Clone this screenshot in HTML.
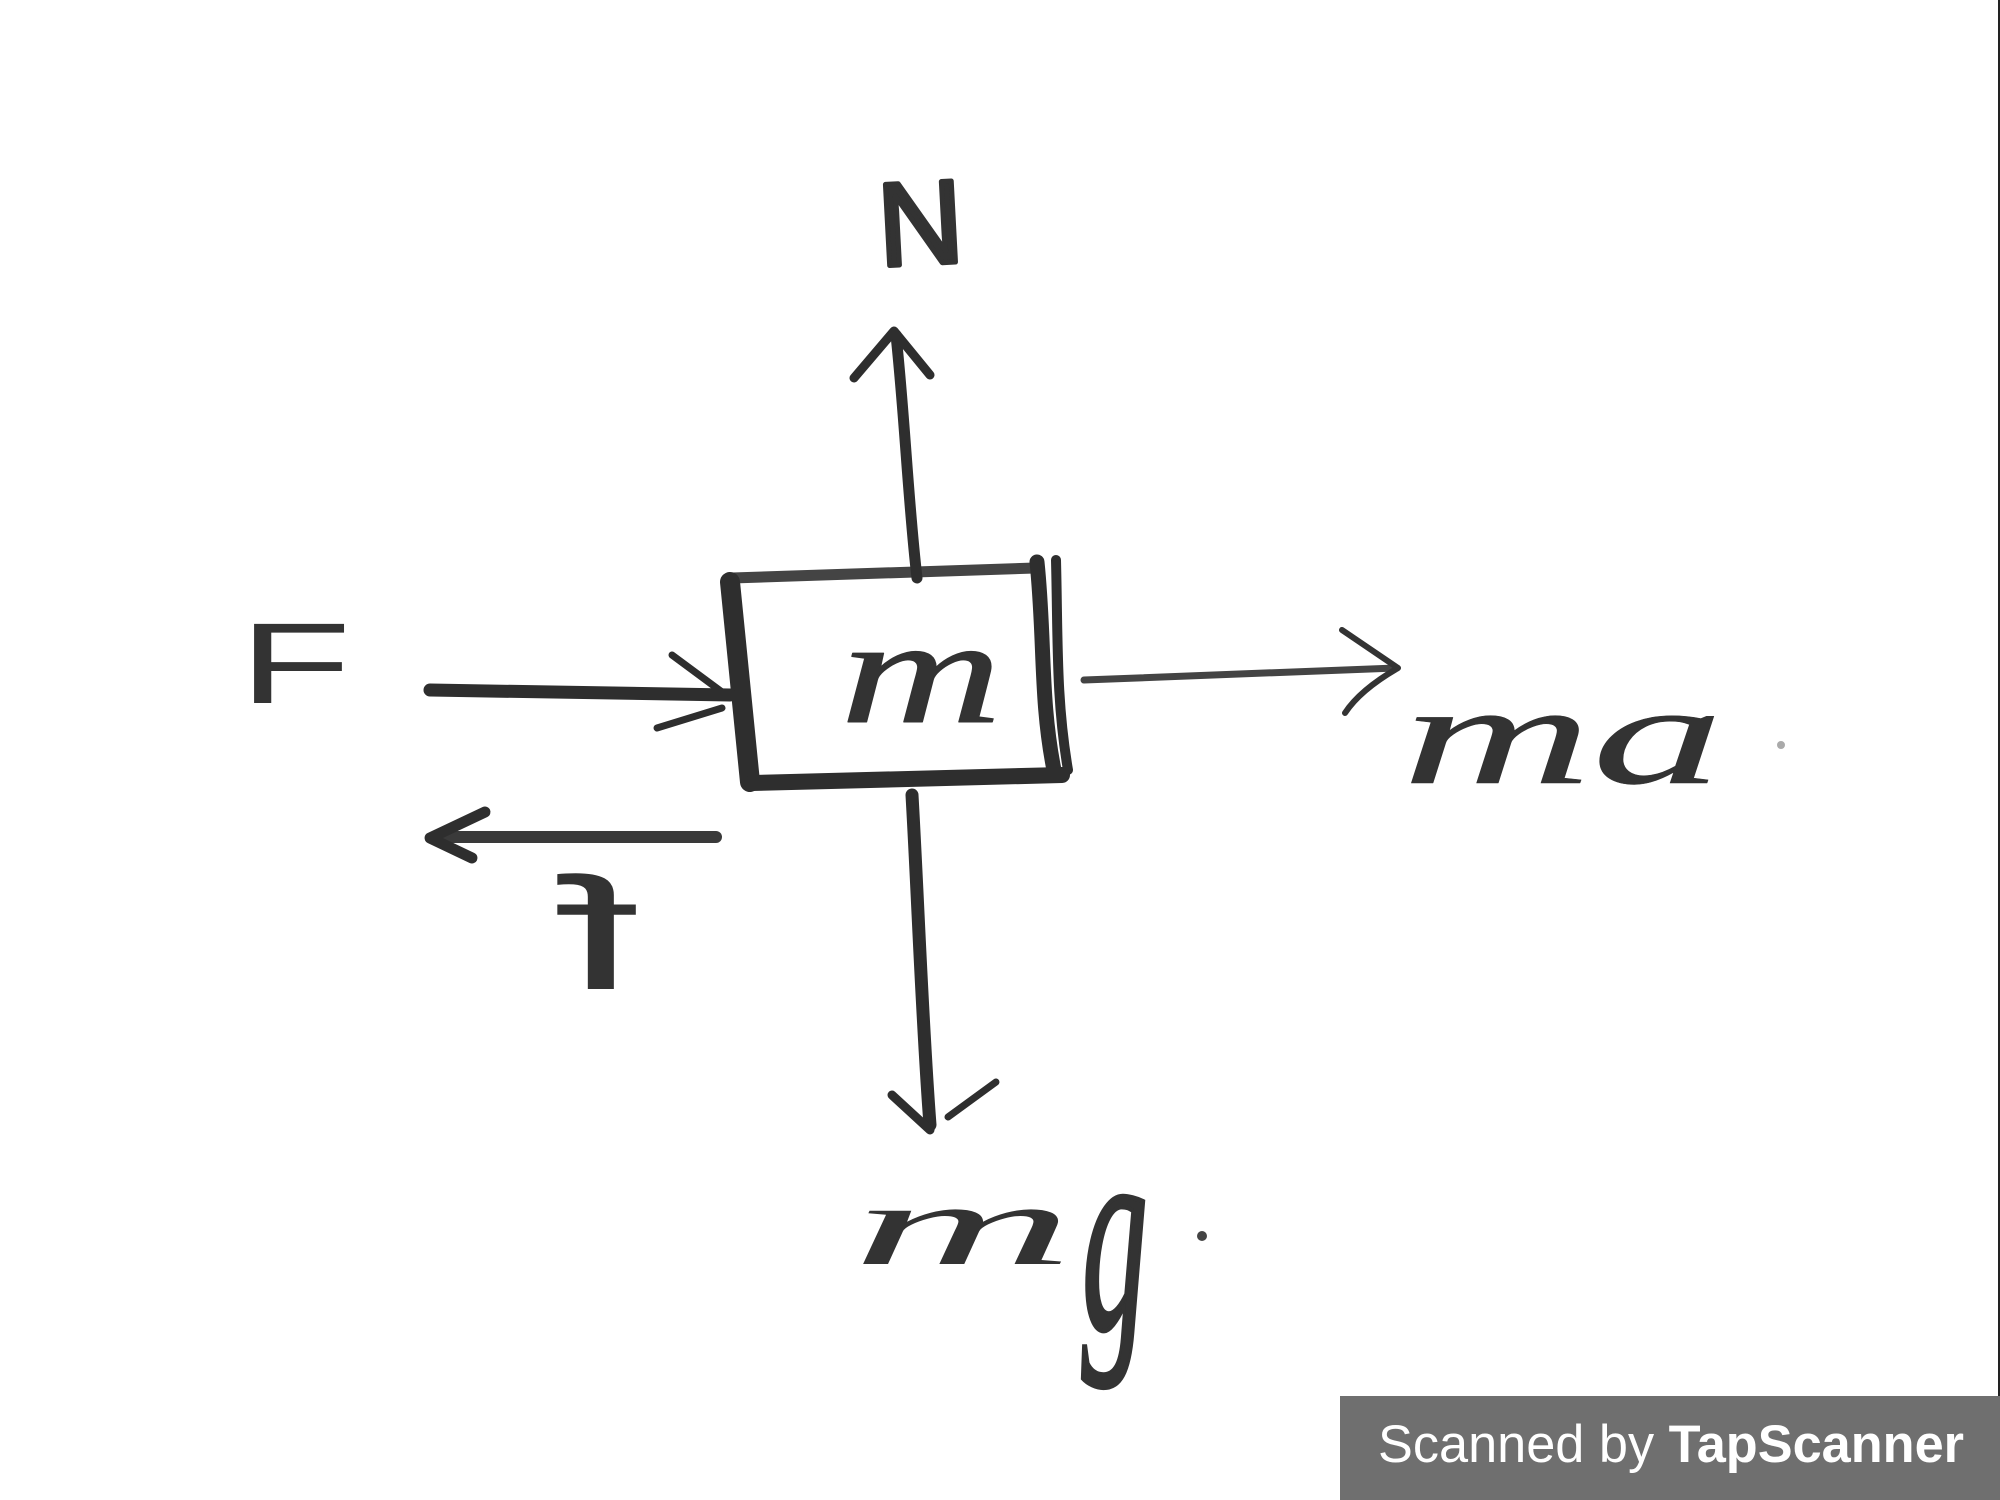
<!DOCTYPE html>
<html lang="en"><head><meta charset="utf-8"><title>Free body diagram</title>
<style>
html,body{margin:0;padding:0;background:#fff;width:2000px;height:1500px;overflow:hidden}
svg{position:absolute;left:0;top:0}
.hand{font-family:"Liberation Serif",serif;font-style:italic;fill:#333;stroke:#333}
.cap{font-family:"Liberation Sans",sans-serif;fill:#333;stroke:#333}
.g{position:absolute;left:0;top:0;font-family:"Liberation Serif",serif;font-style:italic;color:#333;line-height:1;white-space:nowrap;transform-origin:0 0}
</style></head><body>
<svg width="2000" height="1500" viewBox="0 0 2000 1500" fill="none" stroke="#2e2e2e" stroke-linecap="round" stroke-linejoin="round">
<rect x="1998" y="0" width="2" height="1396" fill="#222" stroke="none"/>
<!-- box -->
<path d="M732 578L1035 568" stroke="#444" stroke-width="11"/>
<path d="M730 582L750 782" stroke-width="20"/>
<path d="M752 783L1062 775" stroke-width="16"/>
<path d="M1037 562C1045 640 1040 700 1054 770" stroke-width="15"/>
<path d="M1056 560C1058 640 1056 700 1068 770" stroke-width="10"/>
<!-- N arrow -->
<path d="M896 335C905 420 908 500 917 578" stroke-width="11"/>
<path d="M854 378L894 331L930 375" stroke-width="9"/>
<!-- F arrow -->
<path d="M430 690L730 695" stroke-width="13"/>
<path d="M672 655L722 692M657 728L722 708" stroke-width="7"/>
<!-- ma arrow -->
<path d="M1084 680L1396 668" stroke="#444" stroke-width="7"/>
<path d="M1342 630L1398 668Q1360 690 1345 713" stroke="#333" stroke-width="6"/>
<!-- f arrow -->
<path d="M716 837L445 837" stroke="#3a3a3a" stroke-width="12"/>
<path d="M485 812L430 838L472 858" stroke-width="11"/>
<!-- mg arrow -->
<path d="M912 795C918 900 922 1020 930 1125" stroke-width="13"/>
<path d="M892 1095L930 1130" stroke-width="9"/>
<path d="M948 1117L996 1082" stroke-width="7"/>
<!-- specks -->
<circle cx="1781" cy="745" r="4" fill="#aaa" stroke="none"/>
<circle cx="1202" cy="1236" r="5" fill="#444" stroke="none"/>
<!-- labels -->
<text class="cap" stroke-width="5" font-size="118" transform="translate(880,266) rotate(-3)">N</text>
<text class="cap" stroke-width="0" font-size="115" transform="translate(239,703) scale(1.6,1)">F</text>
<text class="hand" stroke-width="1" font-size="150" transform="translate(840,722) scale(1.5,1)">m</text>
<text class="hand" stroke-width="0.5" font-size="143" transform="translate(1402,783) scale(1.84,1)">ma</text>
<text class="cap" stroke-width="0" font-size="160" transform="translate(640,989) scale(-1.85,1)">f</text>
<!-- watermark -->
<rect x="1340" y="1396" width="660" height="104" fill="#6f6f6f" stroke="none"/>
<text x="1378" y="1462" font-family="'Liberation Sans',sans-serif" font-size="53" fill="#fff" stroke="none" textLength="586" lengthAdjust="spacingAndGlyphs">Scanned by <tspan font-weight="700">TapScanner</tspan></text>
</svg>
<div style="position:absolute;left:0;top:0;width:2000px;height:1500px"><span class="g" style="font-size:116px;transform:translate(852px,1168px) scale(2.65,1)">m</span><span class="g" style="font-size:280px;transform:translate(1082px,1094px) scale(.47,1);-webkit-text-stroke:5px #333">g</span></div>
</body></html>
